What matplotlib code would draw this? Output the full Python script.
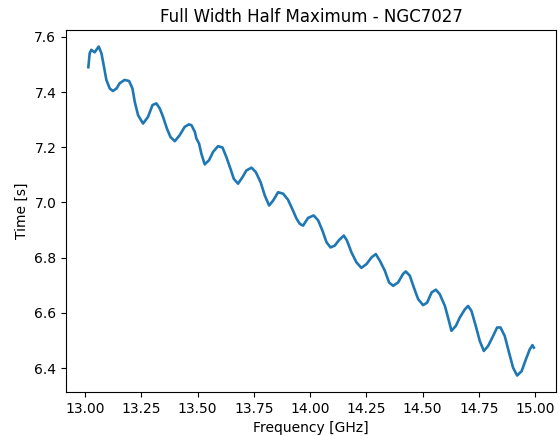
import matplotlib as mpl
mpl.use('Agg')
import numpy as np
import matplotlib.pyplot as plt

# values
freq = [13.015, 13.021, 13.028, 13.043, 13.061, 13.073, 13.083, 13.095, 13.110, 13.124,
        13.140, 13.154, 13.176, 13.196, 13.211, 13.221, 13.236, 13.258, 13.280, 13.300,
        13.317, 13.332, 13.347, 13.364, 13.380, 13.399, 13.421, 13.443, 13.462, 13.473,
        13.488, 13.495, 13.507, 13.517, 13.532, 13.551, 13.569, 13.591, 13.611, 13.628,
        13.646, 13.661, 13.680, 13.700, 13.717, 13.740, 13.759, 13.780, 13.799, 13.818,
        13.836, 13.858, 13.880, 13.902, 13.924, 13.940, 13.954, 13.969, 13.991, 14.016,
        14.036, 14.055, 14.073, 14.091, 14.110, 14.129, 14.150, 14.164, 14.184, 14.206,
        14.228, 14.251, 14.273, 14.292, 14.310, 14.332, 14.351, 14.369, 14.391, 14.413,
        14.425, 14.443, 14.461, 14.480, 14.502, 14.520, 14.540, 14.559, 14.576, 14.599,
        14.613, 14.628, 14.648, 14.665, 14.688, 14.702, 14.717, 14.736, 14.754, 14.772,
        14.791, 14.813, 14.831, 14.846, 14.865, 14.884, 14.902, 14.920, 14.940, 14.959,
        14.976, 14.988, 14.994]
fwhm = [7.490, 7.541, 7.553, 7.544, 7.565, 7.541, 7.498, 7.444, 7.413, 7.404,
        7.413, 7.432, 7.444, 7.440, 7.413, 7.365, 7.316, 7.286, 7.310, 7.353,
        7.359, 7.341, 7.310, 7.268, 7.237, 7.222, 7.244, 7.274, 7.283, 7.280,
        7.256, 7.232, 7.213, 7.177, 7.138, 7.153, 7.183, 7.204, 7.199, 7.165,
        7.123, 7.086, 7.068, 7.092, 7.116, 7.126, 7.110, 7.074, 7.025, 6.989,
        7.007, 7.037, 7.032, 7.010, 6.971, 6.941, 6.923, 6.916, 6.944, 6.953,
        6.935, 6.898, 6.856, 6.837, 6.844, 6.864, 6.880, 6.862, 6.819, 6.783,
        6.763, 6.777, 6.801, 6.813, 6.789, 6.753, 6.710, 6.698, 6.710, 6.741,
        6.750, 6.735, 6.692, 6.650, 6.628, 6.637, 6.674, 6.684, 6.668, 6.625,
        6.583, 6.535, 6.553, 6.583, 6.613, 6.625, 6.607, 6.553, 6.498, 6.462,
        6.480, 6.516, 6.547, 6.547, 6.516, 6.456, 6.401, 6.373, 6.389, 6.432,
        6.468, 6.483, 6.474]
source = 'NGC7027'

fig = plt.figure(figsize=(5.6, 4.36), dpi=100)
ax = fig.add_axes([0.118, 0.101, 0.875, 0.830])
ax.plot(freq, fwhm, color='#1f77b4', linewidth=1.9)
ax.set_title('Full Width Half Maximum - ' + source)
ax.set_xlabel('Frequency [GHz]')
ax.set_ylabel('Time [s]')
ax.set_xticks(np.arange(13.0, 15.01, 0.25))
plt.savefig('out.png', dpi=100)
plt.close()
